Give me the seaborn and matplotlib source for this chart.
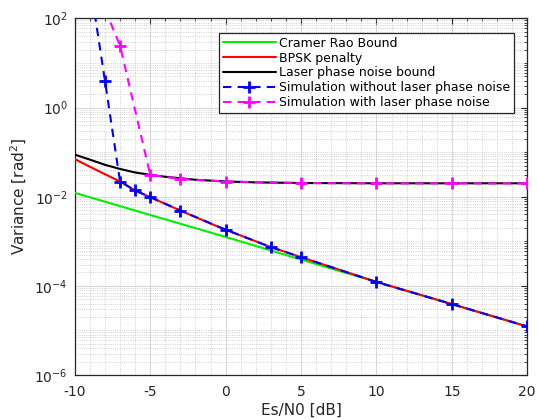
import numpy as np
import pandas as pd
import matplotlib
matplotlib.use("Agg")
import matplotlib.pyplot as plt
import matplotlib.ticker as mticker
import seaborn as sns

# values (Es/N0 in dB, variance in rad^2)
crb_snr = [-10, -5, 0, 5, 10, 15, 20]
crb_var = [1.22e-2, 3.9e-3, 1.25e-3, 3.9e-4, 1.22e-4, 3.9e-5, 1.22e-5]

bpsk_snr = [-10, -9, -8, -7, -6, -5, -4, -3, -2, -1, 0, 3, 5, 10, 15, 20]
bpsk_var = [0.070, 0.047, 0.032, 0.0219, 0.0138, 0.0098, 0.0069, 0.0049,
            0.0035, 0.0025, 0.00182, 7.4e-4, 4.4e-4, 1.23e-4, 3.9e-5, 1.23e-5]

laser_snr = [-10, -9, -8, -7, -6, -5, -4, -3, -2, -1, 0, 2, 5, 10, 15, 20]
laser_var = [0.088, 0.068, 0.052, 0.042, 0.035, 0.031, 0.028, 0.026,
             0.024, 0.023, 0.022, 0.021, 0.0203, 0.0200, 0.0200, 0.0200]

sim_snr = [-9, -8, -7, -6, -5, -3, 0, 3, 5, 10, 15, 20]
sim_var = [660, 4.0, 0.0219, 0.0138, 0.0098, 0.0049, 0.00182, 7.4e-4,
           4.4e-4, 1.22e-4, 3.9e-5, 1.23e-5]

simpn_snr = [-8, -7, -5, -3, 0, 5, 10, 15, 20]
simpn_var = [162, 24.5, 0.031, 0.025, 0.0219, 0.0203, 0.0200, 0.0200, 0.0200]

sns.set_style("white")
plt.rcParams['font.family'] = ['DejaVu Sans']
plt.rcParams['axes.unicode_minus'] = False
txt = '#262626'

fig = plt.figure(figsize=(5.38, 4.19), dpi=100)
ax = fig.add_axes([0.139, 0.105, 0.841, 0.851])

sns.lineplot(x=crb_snr, y=crb_var, ax=ax, color='#00ee00', lw=1.5,
             label='Cramer Rao Bound', zorder=3)
sns.lineplot(x=bpsk_snr, y=bpsk_var, ax=ax, color='#ff0000', lw=1.5,
             label='BPSK penalty', zorder=4)
sns.lineplot(x=laser_snr, y=laser_var, ax=ax, color='black', lw=1.5,
             label='Laser phase noise bound', zorder=4)
sns.lineplot(x=sim_snr, y=sim_var, ax=ax, color='#0000ff', lw=1.5,
             linestyle=(0, (4, 3)), marker='+', markersize=8, markeredgewidth=2,
             markeredgecolor='#0000ff',
             label='Simulation without laser phase noise', zorder=5)
sns.lineplot(x=simpn_snr, y=simpn_var, ax=ax, color='#ff00ff', lw=1.5,
             linestyle=(0, (4, 3)), marker='+', markersize=8, markeredgewidth=2,
             markeredgecolor='#ff00ff',
             label='Simulation with laser phase noise', zorder=5)

ax.set_yscale('log')
ax.set_xlim(-10, 20)
ax.set_ylim(1e-6, 1e2)
ax.set_xticks([-10, -5, 0, 5, 10, 15, 20])
ax.xaxis.set_minor_locator(mticker.MultipleLocator(1))
ax.yaxis.set_major_locator(mticker.FixedLocator([1e-6, 1e-4, 1e-2, 1e0, 1e2]))
ax.yaxis.set_major_formatter(mticker.LogFormatterMathtext())
ax.yaxis.set_minor_locator(mticker.LogLocator(base=10, subs=np.arange(1, 10), numticks=100))
ax.yaxis.set_minor_formatter(mticker.NullFormatter())

ax.grid(which='major', color='#d8d8d8', lw=0.8, ls='-')
ax.grid(which='minor', color='#c4c4c4', lw=0.6, ls=':')
ax.set_axisbelow(True)

ax.tick_params(which='both', direction='in', colors=txt, labelsize=10,
               top=True, right=True)
ax.tick_params(which='major', length=4)
ax.tick_params(which='minor', length=2)
ax.tick_params(axis='x', which='major', pad=7)
ax.tick_params(axis='y', which='major', pad=5)
for s in ax.spines.values():
    s.set_color(txt)
    s.set_linewidth(0.9)

ax.set_xlabel('Es/N0 [dB]', fontsize=11, color=txt, labelpad=3)
ax.set_ylabel('Variance [rad$^2$]', fontsize=11, color=txt)

leg = ax.legend(loc='upper right', bbox_to_anchor=(0.985, 0.977), fontsize=9,
                handlelength=4.2, handletextpad=0.3, borderpad=0.3,
                labelspacing=0.15, frameon=True, fancybox=False, framealpha=1)
leg.get_frame().set_edgecolor(txt)
leg.get_frame().set_linewidth(0.9)
for t in leg.get_texts():
    t.set_color('black')

fig.savefig('out.png', dpi=100)
